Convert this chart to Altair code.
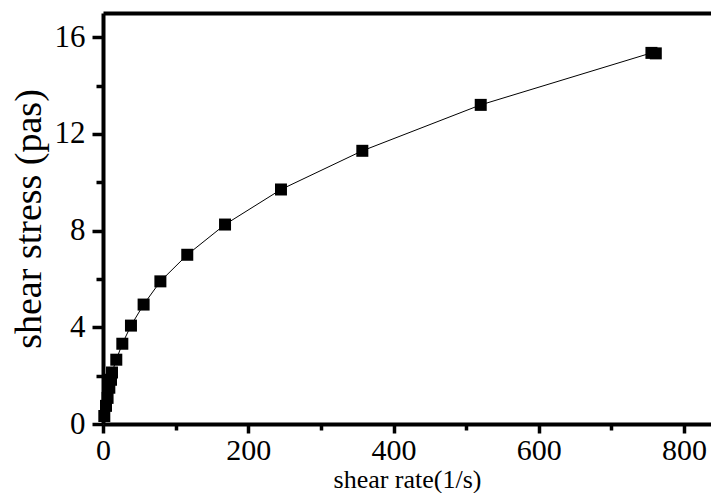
import altair as alt
import pandas as pd

# Flow curve: shear stress against shear rate
shear_rate = [1.8, 4.1, 6.3, 8.7, 11.0, 12.4, 18.3, 26.6, 38.5, 55.9, 79, 116,
              168, 245, 357, 520, 755, 761]
shear_stress = [0.33, 0.75, 1.08, 1.5, 1.83, 2.13, 2.66, 3.32, 4.07, 4.94, 5.9,
                7.0, 8.25, 9.7, 11.3, 13.2, 15.35, 15.33]

x_ticks = list(range(0, 900, 100))
y_ticks = list(range(0, 18, 2))

df = pd.DataFrame({"rate": shear_rate, "stress": shear_stress})

FONT = "Liberation Serif"

x_scale = alt.Scale(domain=[0, 837], nice=False, zero=False)
y_scale = alt.Scale(domain=[0, 17], nice=False, zero=False)

x_axis = alt.Axis(
    orient="bottom",
    values=x_ticks,
    labelExpr="datum.value % 200 === 0 ? datum.label : ''",
    tickSize={"condition": {"test": "datum.value % 200 === 0", "value": 9}, "value": 6},
    tickWidth=3.5,
    tickColor="black",
    domainColor="black",
    domainWidth=4,
    grid=False,
    labelFont=FONT,
    labelFontSize=30,
    labelColor="black",
    labelPadding=2,
    labelFlush=False,
    labelOverlap=False,
    title="shear rate(1/s)",
    titleFont=FONT,
    titleFontSize=26,
    titleFontWeight="normal",
    titleColor="black",
    titlePadding=1,
)

y_axis = alt.Axis(
    orient="left",
    values=y_ticks,
    labelExpr="datum.value % 4 === 0 ? datum.label : ''",
    tickSize={"condition": {"test": "datum.value % 4 === 0", "value": 11}, "value": 7},
    tickWidth=3.5,
    tickColor="black",
    domainColor="black",
    domainWidth=4,
    grid=False,
    labelFont=FONT,
    labelFontSize=31,
    labelColor="black",
    labelPadding=7,
    labelFlush=False,
    labelOverlap=False,
    title="shear stress (pas)",
    titleFont=FONT,
    titleFontSize=38,
    titleFontWeight="normal",
    titleColor="black",
    titlePadding=6,
)

base = alt.Chart(df)

curve = base.mark_line(color="black", strokeWidth=1).encode(
    x=alt.X("rate:Q", scale=x_scale, axis=x_axis),
    y=alt.Y("stress:Q", scale=y_scale, axis=y_axis),
)

points = base.mark_point(shape="square", filled=True, color="black", size=144, opacity=1).encode(
    x=alt.X("rate:Q", scale=x_scale, axis=None),
    y=alt.Y("stress:Q", scale=y_scale),
)

# Frame line along the top of the plot area
top_frame = base.mark_point(opacity=0).encode(
    x=alt.X("rate:Q", scale=x_scale,
            axis=alt.Axis(orient="top", labels=False, ticks=False, title=None,
                          grid=False, domainColor="black", domainWidth=4)),
    y=alt.Y("stress:Q", scale=y_scale),
)

chart = (
    alt.layer(curve, points, top_frame)
    .resolve_axis(x="independent")
    .properties(
        width=608,
        height=411,
        autosize=alt.AutoSizeParams(type="none"),
        padding={"left": 103, "top": 13, "right": 0, "bottom": 69},
        background="white",
    )
    .configure_view(stroke=None)
)

chart.save("out.html", embed_options={"renderer": "svg", "actions": False})
